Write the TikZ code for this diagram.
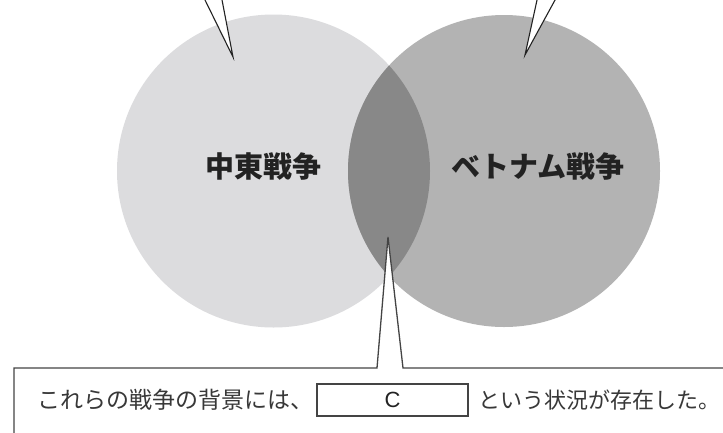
\documentclass[tikz,border=0pt]{standalone}
\usepackage{fontspec}
\newfontfamily\jp{Noto Sans CJK JP}
\newfontfamily\lat{Liberation Sans}
\definecolor{lgray}{HTML}{DCDCDE}
\definecolor{mgray}{HTML}{B3B3B3}
\definecolor{dgray}{HTML}{888888}
\definecolor{ink}{HTML}{222222}
\definecolor{boxline}{HTML}{444444}
\begin{document}
\begin{tikzpicture}[x=1pt,y=-1pt,
  callout/.style={draw=ink, line width=1.1pt, fill=white, line join=miter},
  label/.style={font=\jp\bfseries\fontsize{29}{29}\selectfont, text=ink, inner sep=0pt},
  bodytext/.style={font=\jp\fontsize{23}{23}\selectfont, text=ink!90, inner sep=0pt, anchor=west},
  blank/.style={draw=boxline, line width=1.2pt, minimum width=151pt, minimum height=32pt, inner sep=0pt, font=\lat\fontsize{22}{22}\selectfont, text=ink}]
\useasboundingbox (0,0) rectangle (723,432);
\clip (0,0) rectangle (723,432);
\fill[white] (0,0) rectangle (723,432);
% circles
\coordinate (cl) at (273.5,171);
\coordinate (cr) at (504,171);
\fill[lgray] (cl) circle (156.5);
\fill[mgray] (cr) circle (156);
\begin{scope}
  \clip (cl) circle (156.5);
  \fill[dgray] (cr) circle (156);
\end{scope}
% top callouts
\coordinate (tipA) at (233,57);
\coordinate (a1) at (200.1,-10);
\coordinate (a2) at (220.1,-10);
\coordinate (tipB) at (525,55);
\coordinate (b1) at (539.2,-10);
\coordinate (b2) at (560.5,-10);
\path[callout] (a1) -- (tipA) -- (a2);
\path[callout] (b1) -- (tipB) -- (b2);
% bottom callout box
\coordinate (tipC) at (388,237);
\coordinate (k1) at (377,368);
\coordinate (k2) at (403,368);
\coordinate (bl) at (14,368);
\coordinate (br) at (740,368);
\path[callout, draw=boxline, line width=1.3pt] (14,450) -- (bl) -- (k1) -- (tipC) -- (k2) -- (br) -- (740,450) -- cycle;
% labels
\node[label] (me) at (263,167) {中東戦争};
\node[label] (vn) at (538,167) {ベトナム戦争};
\node[bodytext] (t1) at (37,400) {これらの戦争の背景には、};
\node[blank] (c) at (392.5,400) {C};
\node[bodytext, font=\jp\fontsize{22}{22}\selectfont] (t2) at (478,400) {という状況が存在した。};
\end{tikzpicture}
\end{document}
